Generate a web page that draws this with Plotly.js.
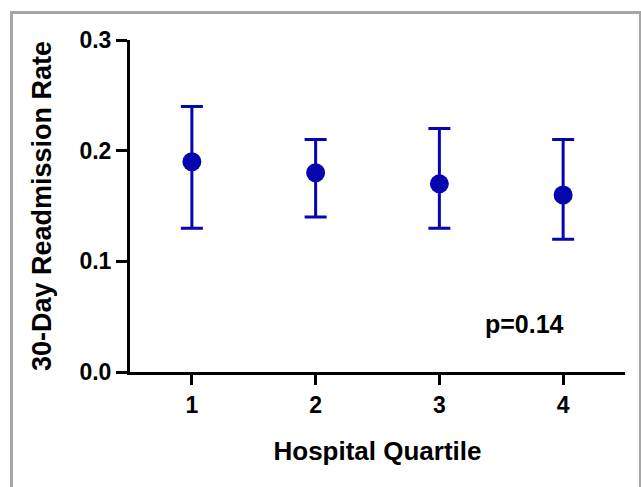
<!DOCTYPE html>
<html>
<head>
<meta charset="utf-8">
<script src="https://cdn.plot.ly/plotly-3.0.1.min.js"></script>
<style>
html, body { margin: 0; padding: 0; background: #fff; }
#wrap { position: relative; width: 641px; height: 487px; overflow: hidden; }
#chart { position: absolute; left: 0; top: 0; width: 641px; height: 487px; }
#frame { position: absolute; left: 10px; top: 11px; width: 626px; height: 500px; border: 3px solid #a6a6a6; pointer-events: none; }
</style>
</head>
<body>
<div id="wrap">
  <div id="chart"></div>
  <div id="frame"></div>
</div>
<script>
// Data
var quartiles = [1, 2, 3, 4];
var tickLabels = ['1', '2', '3', '4'];
var rates = [0.19, 0.18, 0.17, 0.16];
var upperCI = [0.24, 0.21, 0.22, 0.21];
var lowerCI = [0.13, 0.14, 0.13, 0.12];
var yTicks = [0, 0.1, 0.2, 0.3];
var yTickLabels = ['0.0', '0.1', '0.2', '0.3'];
var pLabel = 'p=0.14';

var blue = '#0606b0';
var fontFam = 'Liberation Sans, Arial, Helvetica, sans-serif';

var errPlus = upperCI.map(function (u, i) { return u - rates[i]; });
var errMinus = lowerCI.map(function (l, i) { return rates[i] - l; });

var trace = {
  type: 'scatter',
  mode: 'markers',
  x: quartiles,
  y: rates,
  marker: { color: blue, size: 19 },
  error_y: {
    type: 'data',
    symmetric: false,
    array: errPlus,
    arrayminus: errMinus,
    color: blue,
    thickness: 3,
    width: 11
  },
  hoverinfo: 'none'
};

var layout = {
  width: 641,
  height: 487,
  margin: { l: 130, r: 16, t: 40, b: 115 },
  paper_bgcolor: '#ffffff',
  plot_bgcolor: '#ffffff',
  showlegend: false,
  font: { family: fontFam, color: '#000', size: 23, weight: 700 },
  xaxis: {
    range: [0.5, 4.5],
    tickvals: quartiles,
    ticktext: tickLabels,
    showgrid: false,
    zeroline: false,
    showline: true,
    linecolor: '#000',
    linewidth: 3,
    ticks: 'outside',
    ticklen: 10,
    tickwidth: 3,
    tickcolor: '#000',
    tickfont: { family: fontFam, size: 23, color: '#000', weight: 700 },
    title: { text: 'Hospital Quartile', font: { family: fontFam, size: 26, color: '#000', weight: 700 }, standoff: 26 },
    automargin: false,
    fixedrange: true
  },
  yaxis: {
    range: [0, 0.3],
    tickvals: yTicks,
    ticktext: yTickLabels,
    showgrid: false,
    zeroline: false,
    showline: true,
    linecolor: '#000',
    linewidth: 3,
    ticks: 'outside',
    ticklen: 11,
    tickwidth: 3,
    tickcolor: '#000',
    tickfont: { family: fontFam, size: 23, color: '#000', weight: 700 },
    title: { text: '30-Day Readmission Rate', font: { family: fontFam, size: 27, color: '#000', weight: 700 }, standoff: 20 },
    automargin: false,
    fixedrange: true
  },
  annotations: [{
    x: 3.69, y: 0.043, xref: 'x', yref: 'y',
    text: pLabel, showarrow: false,
    font: { family: fontFam, size: 25, color: '#000', weight: 700 }
  }]
};

Plotly.newPlot('chart', [trace], layout, { staticPlot: true, displayModeBar: false });
</script>
</body>
</html>
